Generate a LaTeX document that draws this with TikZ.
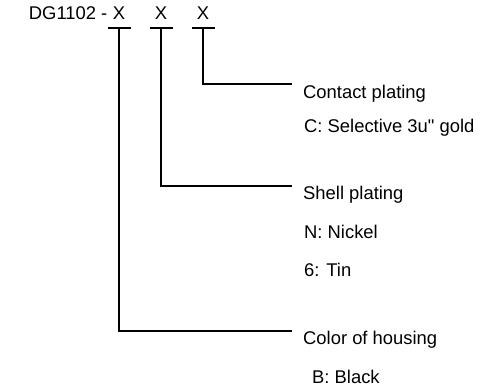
\documentclass[tikz,border=0pt]{standalone}
\usepackage{fontspec}
\setmainfont{Liberation Sans}
\begin{document}
\begin{tikzpicture}[x=1pt,y=-1pt,
  txt/.style={inner sep=0pt, font=\fontsize{18.4}{21}\selectfont},
  lbl/.style={txt, anchor=base west},
  conn/.style={line width=2pt, line cap=butt, line join=miter}]
\useasboundingbox (0,0) rectangle (489,387);
% code
\node[txt, anchor=base] (x1) at (119,19.5) {X};
\node[txt, anchor=base east] (pre) at (x1.base west) {DG1102 -\kern0.278em};
\node[txt, anchor=base] (x2) at (161,19.5) {X};
\node[txt, anchor=base] (x3) at (203,19.5) {X};
% T bars
\coordinate (t1) at (119,28);
\coordinate (t2) at (161,28);
\coordinate (t3) at (203,28);
\draw[conn] ([xshift=-11.5pt]t1) -- ([xshift=11.5pt]t1);
\draw[conn] ([xshift=-11.5pt]t2) -- ([xshift=11.5pt]t2);
\draw[conn] ([xshift=-11.5pt]t3) -- ([xshift=11.5pt]t3);
% labels
\node[lbl] (cp) at (303,98.5) {Contact plating};
\node[lbl] (cpc) at (304,133) {C: Selective 3u\textquotedbl\ gold};
\node[lbl] (sp) at (303,200) {Shell plating};
\node[lbl] (spn) at (304,238) {N: Nickel};
\node[lbl] (sp6) at (304,276) {6: Tin};
\node[lbl] (ch) at (303,344) {Color of housing};
\node[lbl] (chb) at (312,383) {B: Black};
% connector ends
\coordinate (e3) at (292,84);
\coordinate (e2) at (292,186);
\coordinate (e1) at (292,331);
\draw[conn] (t3) |- (e3);
\draw[conn] (t2) |- (e2);
\draw[conn] (t1) |- (e1);
\end{tikzpicture}
\end{document}
